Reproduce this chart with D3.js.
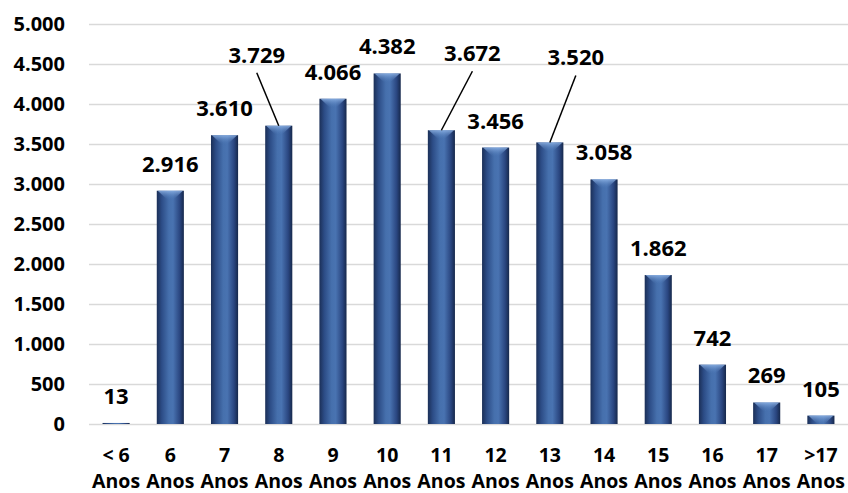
<!DOCTYPE html>
<html>
<head>
<meta charset="utf-8">
<script src="https://cdn.jsdelivr.net/npm/d3@7"></script>
<style>
  body { margin: 0; background: #fff; }
  text { font-family: "Open Sans", sans-serif; font-weight: bold; fill: #000; }
</style>
</head>
<body>
<script>
// categories (two lines each) and counts
const ageTop = ['< 6', '6', '7', '8', '9', '10', '11', '12', '13', '14', '15', '16', '17', '>17'];
const ageBottom = 'Anos';
const counts = [13, 2916, 3610, 3729, 4066, 4382, 3672, 3456, 3520, 3058, 1862, 742, 269, 105];
const yTicks = [0, 500, 1000, 1500, 2000, 2500, 3000, 3500, 4000, 4500, 5000];

// labels that were pulled away from their bar, with a leader line
const labelShift = {
    '8': { dx: -22, dy: -44 },
    '11': { dx: 31, dy: -50 },
    '13': { dx: 26, dy: -58 }
};

const W = 848, H = 493;
const M = { left: 89, right: 0, top: 24, bottom: 69 };
const innerW = W - M.left - M.right;
const innerH = H - M.top - M.bottom;

const ptBR = d3.formatLocale({ decimal: ',', thousands: '.', grouping: [3], currency: ['', ''] });
const fmt = ptBR.format(',');

const svg = d3.select('body').append('svg')
    .attr('width', W)
    .attr('height', H);

const defs = svg.append('defs');
const grad = defs.append('linearGradient').attr('id', 'barGrad')
    .attr('x1', 0).attr('x2', 1).attr('y1', 0).attr('y2', 0);
[[0, '#1b2f57'], [0.18, '#2c4c86'], [0.45, '#4670ad'], [0.6, '#4973b1'], [0.85, '#2a4680'], [1, '#16284b']]
    .forEach(s => grad.append('stop').attr('offset', s[0]).attr('stop-color', s[1]));
const capGrad = defs.append('linearGradient').attr('id', 'capGrad')
    .attr('x1', 0).attr('x2', 0).attr('y1', 0).attr('y2', 1);
capGrad.append('stop').attr('offset', 0).attr('stop-color', '#8fb4e6');
capGrad.append('stop').attr('offset', 1).attr('stop-color', '#4d78b6').attr('stop-opacity', 0);

const g = svg.append('g').attr('transform', `translate(${M.left},${M.top})`);

const x = d3.scaleBand()
    .domain(ageTop)
    .range([0, innerW])
    .paddingInner(0.5)
    .paddingOuter(0.25);

const y = d3.scaleLinear()
    .domain([0, 5000])
    .range([innerH, 0]);

// gridlines + y labels
const yAxis = d3.axisLeft(y)
    .tickValues(yTicks)
    .tickFormat(fmt)
    .tickSize(-innerW)
    .tickPadding(24);

const yAxisG = g.append('g').call(yAxis);
yAxisG.select('.domain').remove();
yAxisG.selectAll('.tick line').attr('stroke', '#d9d9d9').attr('stroke-width', 1.5);
yAxisG.selectAll('.tick text').style('font-size', '20px').attr('fill', '#000');

// bars
const data = ageTop.map((a, i) => ({ age: a, value: counts[i] }));

const bars = g.selectAll('.bar').data(data).enter().append('g').attr('class', 'bar');

bars.append('rect')
    .attr('x', d => x(d.age))
    .attr('y', d => y(d.value))
    .attr('width', x.bandwidth())
    .attr('height', d => innerH - y(d.value))
    .attr('fill', 'url(#barGrad)');

bars.filter(d => innerH - y(d.value) > 6).append('path')
    .attr('d', d => {
        const x0 = x(d.age), w = x.bandwidth(), t = y(d.value);
        const cx = x0 + w / 2;
        return `M${x0 + 1},${t} L${x0 + w - 1},${t} L${cx + 3},${t + 9} L${cx - 3},${t + 9} Z`;
    })
    .attr('fill', 'url(#capGrad)')
    .attr('opacity', 0.85);

// value labels
const labels = g.selectAll('.val').data(data).enter().append('g').attr('class', 'val');

labels.append('text')
    .attr('x', d => x(d.age) + x.bandwidth() / 2 + (labelShift[d.age] ? labelShift[d.age].dx : 0))
    .attr('y', d => y(d.value) - 19 + (labelShift[d.age] ? labelShift[d.age].dy : 0))
    .attr('text-anchor', 'middle')
    .style('font-size', '22px')
    .text(d => fmt(d.value));

labels.filter(d => labelShift[d.age]).append('line')
    .attr('x1', d => x(d.age) + x.bandwidth() / 2 + labelShift[d.age].dx)
    .attr('y1', d => y(d.value) - 19 + labelShift[d.age].dy + 10)
    .attr('x2', d => x(d.age) + x.bandwidth() / 2)
    .attr('y2', d => y(d.value))
    .attr('stroke', '#000')
    .attr('stroke-width', 1.5);

// x labels
const xLab = g.selectAll('.xlab').data(ageTop).enter().append('text')
    .attr('class', 'xlab')
    .attr('text-anchor', 'middle')
    .attr('x', d => x(d) + x.bandwidth() / 2)
    .style('font-size', '19.5px');
xLab.append('tspan').attr('x', d => x(d) + x.bandwidth() / 2).attr('y', innerH + 38).text(d => d);
xLab.append('tspan').attr('x', d => x(d) + x.bandwidth() / 2).attr('y', innerH + 64).text(ageBottom);
</script>
</body>
</html>
